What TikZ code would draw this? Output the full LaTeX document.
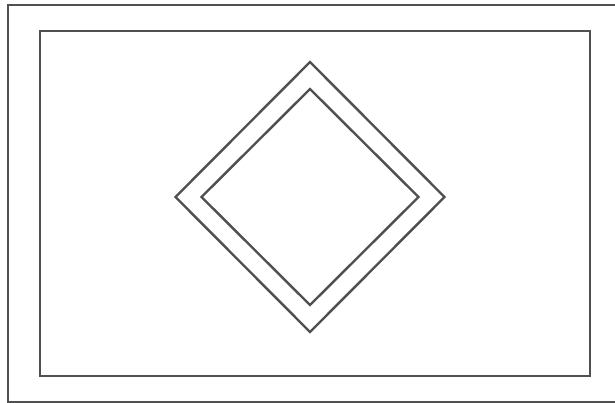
\documentclass[tikz,border=0pt]{standalone}
\usepackage{tikz}
\usetikzlibrary{positioning, shapes.geometric}

\definecolor{inkgray}{HTML}{505050}

\begin{document}
\begin{tikzpicture}[x=1pt, y=-1pt, outer sep=0pt,
    every node/.style={draw=inkgray, line width=2.4pt, inner sep=0pt, outer sep=0pt},
    frame/.style={rectangle, anchor=north west},
    rhomb/.style={diamond, aspect=1}]
        \useasboundingbox (0,0) rectangle (615,402);
        \clip (0,0) rectangle (615,402);
        \fill[white] (0,0) rectangle (615,402);
        
        \node (border) [frame, minimum width=700pt, minimum height=397pt] at (8,5) {};
        \node (panel) [frame, minimum width=550pt, minimum height=345pt] at (40,31) {};
        
        \node (outerrhomb) [rhomb, minimum width=269pt, minimum height=270pt] at (310,197) {};
        \node (innerrhomb) [rhomb, minimum width=217pt, minimum height=216pt] at (outerrhomb.center) {};
    \end{tikzpicture}
\end{document}
